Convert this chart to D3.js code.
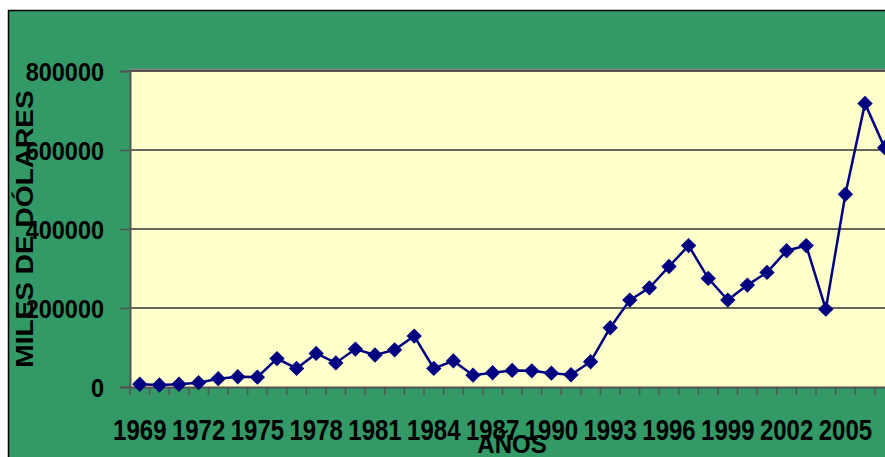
<!DOCTYPE html>
<html>
<head>
<meta charset="utf-8">
<script src="https://cdn.jsdelivr.net/npm/d3@7"></script>
<style>
  body { margin: 0; background: #fff; }
  text { font-family: "Liberation Sans", Arial, sans-serif; font-weight: bold; fill: #000; }
</style>
</head>
<body>
<svg id="chart" width="885" height="457"></svg>
<script>
// years on the category axis
const years = d3.range(1969, 2008);
const yearLabels = years.filter((y, i) => i % 3 == 0);
// miles de dólares
const values = [
   7000, 5000, 7000, 11000, 21000, 26000, 25000, 72000, 47000, 85000,
   61000, 96000, 81000, 94000, 129000, 47000, 66000, 30000, 36000, 42000,
   41000, 35000, 31000, 64000, 150000, 220000, 251000, 305000, 358000, 275000,
   220000, 258000, 290000, 345000, 358000, 197000, 488000, 718000, 606000
];
const yTicks = [0, 200000, 400000, 600000, 800000];

const colors = {
   frame: '#339966',
   plot: '#FFFFCC',
   series: '#000080',
   grid: '#333333',
   axis: '#555555'
};

const svg = d3.select('#chart');
const plot = {left: 130, top: 71, bottom: 387, step: 19.6};

svg.append('rect')
   .attr('x', 8.5).attr('y', 10.5)
   .attr('width', 900).attr('height', 460)
   .attr('fill', colors.frame)
   .attr('stroke', '#000')
   .attr('stroke-width', 1.5);

const x = d3.scaleBand()
   .domain(years)
   .range([plot.left, plot.left + plot.step * years.length]);
const y = d3.scaleLinear()
   .domain([0, 800000])
   .range([plot.bottom, plot.top]);

// plot background
svg.append('rect')
   .attr('x', plot.left).attr('y', plot.top)
   .attr('width', x.range()[1] - plot.left)
   .attr('height', plot.bottom - plot.top)
   .attr('fill', colors.plot);
svg.append('line')
   .attr('x1', plot.left).attr('x2', 885)
   .attr('y1', plot.top - 1).attr('y2', plot.top - 1)
   .attr('stroke', '#888').attr('stroke-width', 2.5);

// gridlines
svg.append('g')
   .selectAll('line')
   .data(yTicks.slice(1))
   .join('line')
   .attr('x1', plot.left).attr('x2', x.range()[1])
   .attr('y1', d => y(d)).attr('y2', d => y(d))
   .attr('stroke', colors.grid)
   .attr('stroke-width', 1.3);

// y axis
const yAxis = svg.append('g')
   .attr('transform', `translate(${plot.left},0)`)
   .call(d3.axisLeft(y).tickValues(yTicks).tickSize(10).tickFormat(d3.format('d')));
yAxis.select('.domain').attr('stroke', colors.axis).attr('stroke-width', 2);
yAxis.selectAll('.tick line').attr('stroke', colors.axis).attr('stroke-width', 1.5);
yAxis.selectAll('.tick text')
   .attr('x', null).attr('dy', null)
   .attr('font-size', 23.5)
   .attr('transform', 'translate(-26,9) scale(1,1.08)');

// x axis: labels every third year, ticks at category edges
const xAxis = svg.append('g')
   .attr('transform', `translate(0,${plot.bottom})`)
   .call(d3.axisBottom(x).tickValues(yearLabels).tickSize(0));
xAxis.select('.domain').attr('stroke', colors.axis).attr('stroke-width', 2);
xAxis.selectAll('.tick text')
   .attr('y', null).attr('dy', null)
   .attr('font-size', 24)
   .attr('transform', 'translate(0,53) scale(1,1.2)');
xAxis.selectAll('.edge')
   .data(years)
   .join('line')
   .attr('class', 'edge')
   .attr('x1', d => x(d)).attr('x2', d => x(d))
   .attr('y1', 0).attr('y2', 8)
   .attr('stroke', colors.axis)
   .attr('stroke-width', 1.5);

// series
const points = years.map((yr, i) => [x(yr) + x.bandwidth() / 2, y(values[i])]);
svg.append('path')
   .attr('d', d3.line()(points))
   .attr('fill', 'none')
   .attr('stroke', colors.series)
   .attr('stroke-width', 2.5);
svg.append('g')
   .selectAll('path')
   .data(points)
   .join('path')
   .attr('d', d3.symbol(d3.symbolDiamond2, 150))
   .attr('transform', d => `translate(${d[0]},${d[1]})`)
   .attr('fill', colors.series);

// axis titles
svg.append('text')
   .attr('font-size', 23)
   .attr('text-anchor', 'middle')
   .attr('transform', 'translate(33,229) rotate(-90) scale(1.22,1)')
   .text('MILES DE DÓLARES');
svg.append('text')
   .attr('font-size', 24)
   .attr('text-anchor', 'middle')
   .attr('transform', 'translate(512,453) scale(1,1.1)')
   .text('AÑOS');
</script>
</body>
</html>
